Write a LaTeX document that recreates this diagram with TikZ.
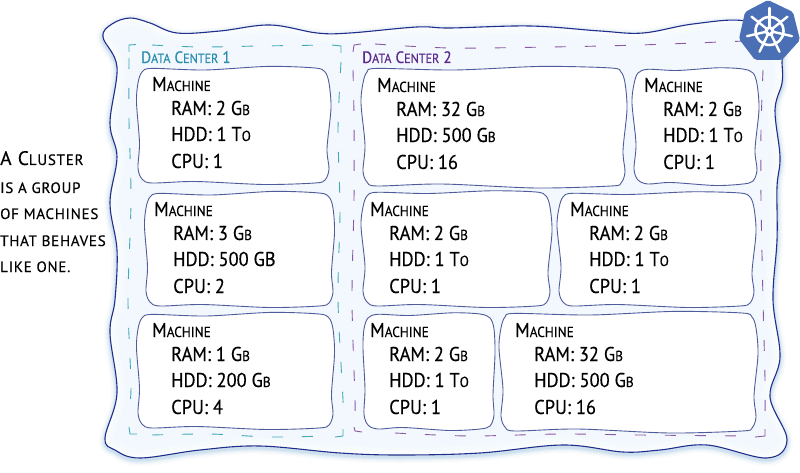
\documentclass[tikz,border=0pt]{standalone}
\usepackage{fontspec}
\setmainfont[FakeStretch=.92,FakeBold=.35]{PT Sans}
\newfontfamily\leftfont[LetterSpace=5,FakeBold=.35]{PT Sans}
\newcommand\smc[1]{{\fontsize{14.5}{15}\selectfont #1}}
\newcommand\dcs[1]{{\fontsize{13.2}{14}\selectfont #1}}
\newcommand\bigt{\fontsize{20}{21}\selectfont}
\definecolor{clfill}{HTML}{F2F8FD}
\definecolor{navy}{HTML}{1F2F8C}
\definecolor{boxline}{HTML}{4F5C9C}
\definecolor{tealdash}{HTML}{45AAB8}
\definecolor{purpdash}{HTML}{8C5AA5}
\definecolor{tealtxt}{HTML}{2A8CB0}
\definecolor{purptxt}{HTML}{5A2A8C}
\definecolor{k8s}{HTML}{4A6FB5}
\tikzset{
  mainoutline/.style={insert path={plot[smooth cycle,tension=.6] coordinates{
    (103,37)(112,24)(130,18)(150,23)(177,33)(220,31)(270,25)(317,33)(350,33)(417,27)(450,28)(530,26)(600,31)(643,33)(693,24)(745,21)
    (780,40)(782,63)(782,83)(775,110)(780,157)(777,187)(777,240)(773,300)(780,357)(770,397)(787,440)(767,458)
    (707,445)(660,450)(623,452)(563,445)(480,453)(400,455)(340,453)(260,446)(200,450)(140,458)(115,450)(105,438)
    (117,393)(110,333)(115,300)(117,250)(110,203)(117,157)(110,123)(117,67)}}},
  txt/.style={anchor=base west,inner sep=0pt,font=\bigt,text=black},
  dc/.style={anchor=base west,inner sep=0pt,font=\fontsize{16.5}{17}\selectfont},
  dcline/.style={line width=.9pt,dash pattern=on 11pt off 19pt},
  cornerline/.style={line width=.9pt},
  lefttxt/.style={anchor=base west,inner sep=0pt,font=\leftfont\fontsize{15}{16}\selectfont,text=black}
}
% x1,y1,x2,y2, wobble a,b,c,d
\newcommand\wavybox[8]{%
  \filldraw[fill=white,draw=boxline,line width=.9pt]
   plot[smooth cycle,tension=.5] coordinates{
    ({#1+14},{#2+#5*.2}) ({#1+(#3-#1)*.35},{#2+#5}) ({#1+(#3-#1)*.68},{#2-#5*.8}) ({#3-14},{#2})
    ({#3-4},{#2+4}) ({#3},{#2+15}) ({#3+#6},{#2+(#4-#2)*.35}) ({#3-#6},{#2+(#4-#2)*.7}) ({#3},{#4-14}) ({#3-4},{#4-3})
    ({#3-14},{#4}) ({#1+(#3-#1)*.66},{#4+#7}) ({#1+(#3-#1)*.3},{#4-#7}) ({#1+14},{#4}) ({#1+4},{#4-4})
    ({#1},{#4-15}) ({#1+#8},{#2+(#4-#2)*.65}) ({#1-#8},{#2+(#4-#2)*.3}) ({#1},{#2+15}) ({#1+4},{#2+4})};}
\newcommand\mtext[7]{%
  \node[txt] (#1t) at (#2,#3) {M\smc{ACHINE}};
  \node[txt] (#1r) at ({#2+19},{#3+24}) {RAM: #5};
  \node[txt] (#1h) at ({#2+19},{#3+50}) {HDD: #6};
  \node[txt] (#1c) at ({#2+19},{#3+77}) {CPU: #7};}
\newcommand\gb{G\smc{B}}
\newcommand\tob{T\smc{O}}
\begin{document}
\begin{tikzpicture}[x=1pt,y=-1pt]
\useasboundingbox (0,0) rectangle (800,473);
% outline with soft shadow
\foreach \w/\o in {12/.03,8/.05,5/.06,3/.08}{
  \draw[draw=navy!70!cyan,opacity=\o,line width=\w pt,yshift=-2pt,mainoutline];}
\fill[clfill,mainoutline];
\begin{scope}
  \clip[mainoutline];
  \foreach \w/\o in {16/.3,10/.3,5/.4}{\draw[white,opacity=\o,line width=\w pt,mainoutline];}
\end{scope}
\draw[navy,line width=1.1pt,mainoutline];
% data centre 1
\draw[tealdash,dcline] plot[smooth,tension=.5] coordinates{(129,58)(129,120)(131,200)(128,300)(131,385)(129,412)};
\draw[tealdash,dcline] plot[smooth,tension=.5] coordinates{(341,62)(338,130)(340,210)(338,300)(343,400)(343,420)};
\draw[tealdash,dcline] plot[smooth,tension=.5] coordinates{(152,45)(200,47)(260,46)(330,45)};
\draw[tealdash,dcline] plot[smooth,tension=.5] coordinates{(152,435)(210,434)(270,437)(325,436)};
\draw[tealdash,cornerline] (129,52) -- (129,45) -- (136,44.5);
\draw[tealdash,cornerline] (332,45) -- (341,46) -- (341,53);
\draw[tealdash,cornerline] (129,427) -- (130,434) -- (137,434);
\draw[tealdash,cornerline] (335,437) -- (343,436) -- (343,429);
\node[dc,text=tealtxt] (dc1) at (141,63) {D\dcs{ATA} C\dcs{ENTER} 1};
% data centre 2
\draw[purpdash,dcline] plot[smooth,tension=.5] coordinates{(353,70)(354,120)(354,200)(352,300)(355,400)(355,420)};
\draw[purpdash,dcline] plot[smooth,tension=.5] coordinates{(763,70)(761,130)(761,200)(763,300)(765,380)(765,425)};
\draw[purpdash,dcline] plot[smooth,tension=.5] coordinates{(375,44)(450,48)(550,47)(640,45)(745,41)};
\draw[purpdash,dcline] plot[smooth,tension=.5] coordinates{(395,433)(470,436)(560,434)(640,435)(750,436)};
\draw[purpdash,cornerline] (353,52) -- (354,45) -- (361,44);
\draw[purpdash,cornerline] (354,427) -- (355,431) -- (362,432);
\draw[purpdash,cornerline] (755,437) -- (765,436) -- (765,429);
\node[dc,text=purptxt] (dc2) at (362,63) {D\dcs{ATA} C\dcs{ENTER} 2};
% machine boxes
\wavybox{138}{68}{329}{183}{2}{2}{1.5}{1.5}
\wavybox{146}{193}{333}{306}{2}{1.5}{1.5}{1.5}
\wavybox{138}{314}{333}{428}{2}{1.5}{1.5}{1.5}
\wavybox{363}{68}{625}{186}{2}{2}{2}{2}
\wavybox{634}{69}{757}{184}{1.5}{2}{1.5}{2}
\wavybox{363}{192}{550}{306}{1.5}{2}{1.5}{2}
\wavybox{559}{193}{754}{306}{1.5}{2}{1.5}{2}
\wavybox{364}{314}{494}{429}{1.5}{1}{1.5}{1}
\wavybox{501}{313}{756}{431}{2}{2}{2}{2}
\mtext{a}{152}{91}{}{2 \gb}{1 \tob}{1}
\mtext{b}{154}{216}{}{3 \gb}{500 GB}{2}
\mtext{c}{152}{337}{}{1 \gb}{200 \gb}{4}
\mtext{d}{377}{92}{}{32 \gb}{500 \gb}{16}
\mtext{e}{644}{92}{}{2 \gb}{1 \tob}{1}
\mtext{f}{370}{216}{}{2 \gb}{1 \tob}{1}
\mtext{g}{570}{216}{}{2 \gb}{1 \tob}{1}
\mtext{h}{370}{337}{}{2 \gb}{1 \tob}{1}
\mtext{i}{515}{337}{}{32 \gb}{500 \gb}{16}
% left caption
\node[lefttxt,font=\leftfont\fontsize{19.5}{20}\selectfont] (l1) at (0,165) {A C{\fontsize{15}{16}\selectfont LUSTER}};
\node[lefttxt] (l2) at (0,193) {IS A GROUP};
\node[lefttxt] (l3) at (0,219) {OF MACHINES};
\node[lefttxt] (l4) at (0,246) {THAT BEHAVES};
\node[lefttxt] (l5) at (0,272) {LIKE ONE.};
% logo
\fill[k8s,rounded corners=2pt] (768,0) -- (793,12) -- (800,40) -- (782,60) -- (755,60) -- (739,39) -- (745,12) -- cycle;
\begin{scope}[shift={(769.5,31)}]
  \draw[white,line width=2.6pt] (0,0) circle (14);
  \foreach \a in {90,141.4,192.9,244.3,295.7,347.1,38.6}{
    \draw[white,line width=2.4pt,line cap=round] (0,0) -- ({\a}:-23);
  }
  \fill[white] (0,0) circle (5);
  \fill[k8s] (0,0) circle (1.8);
\end{scope}
\end{tikzpicture}
\end{document}
